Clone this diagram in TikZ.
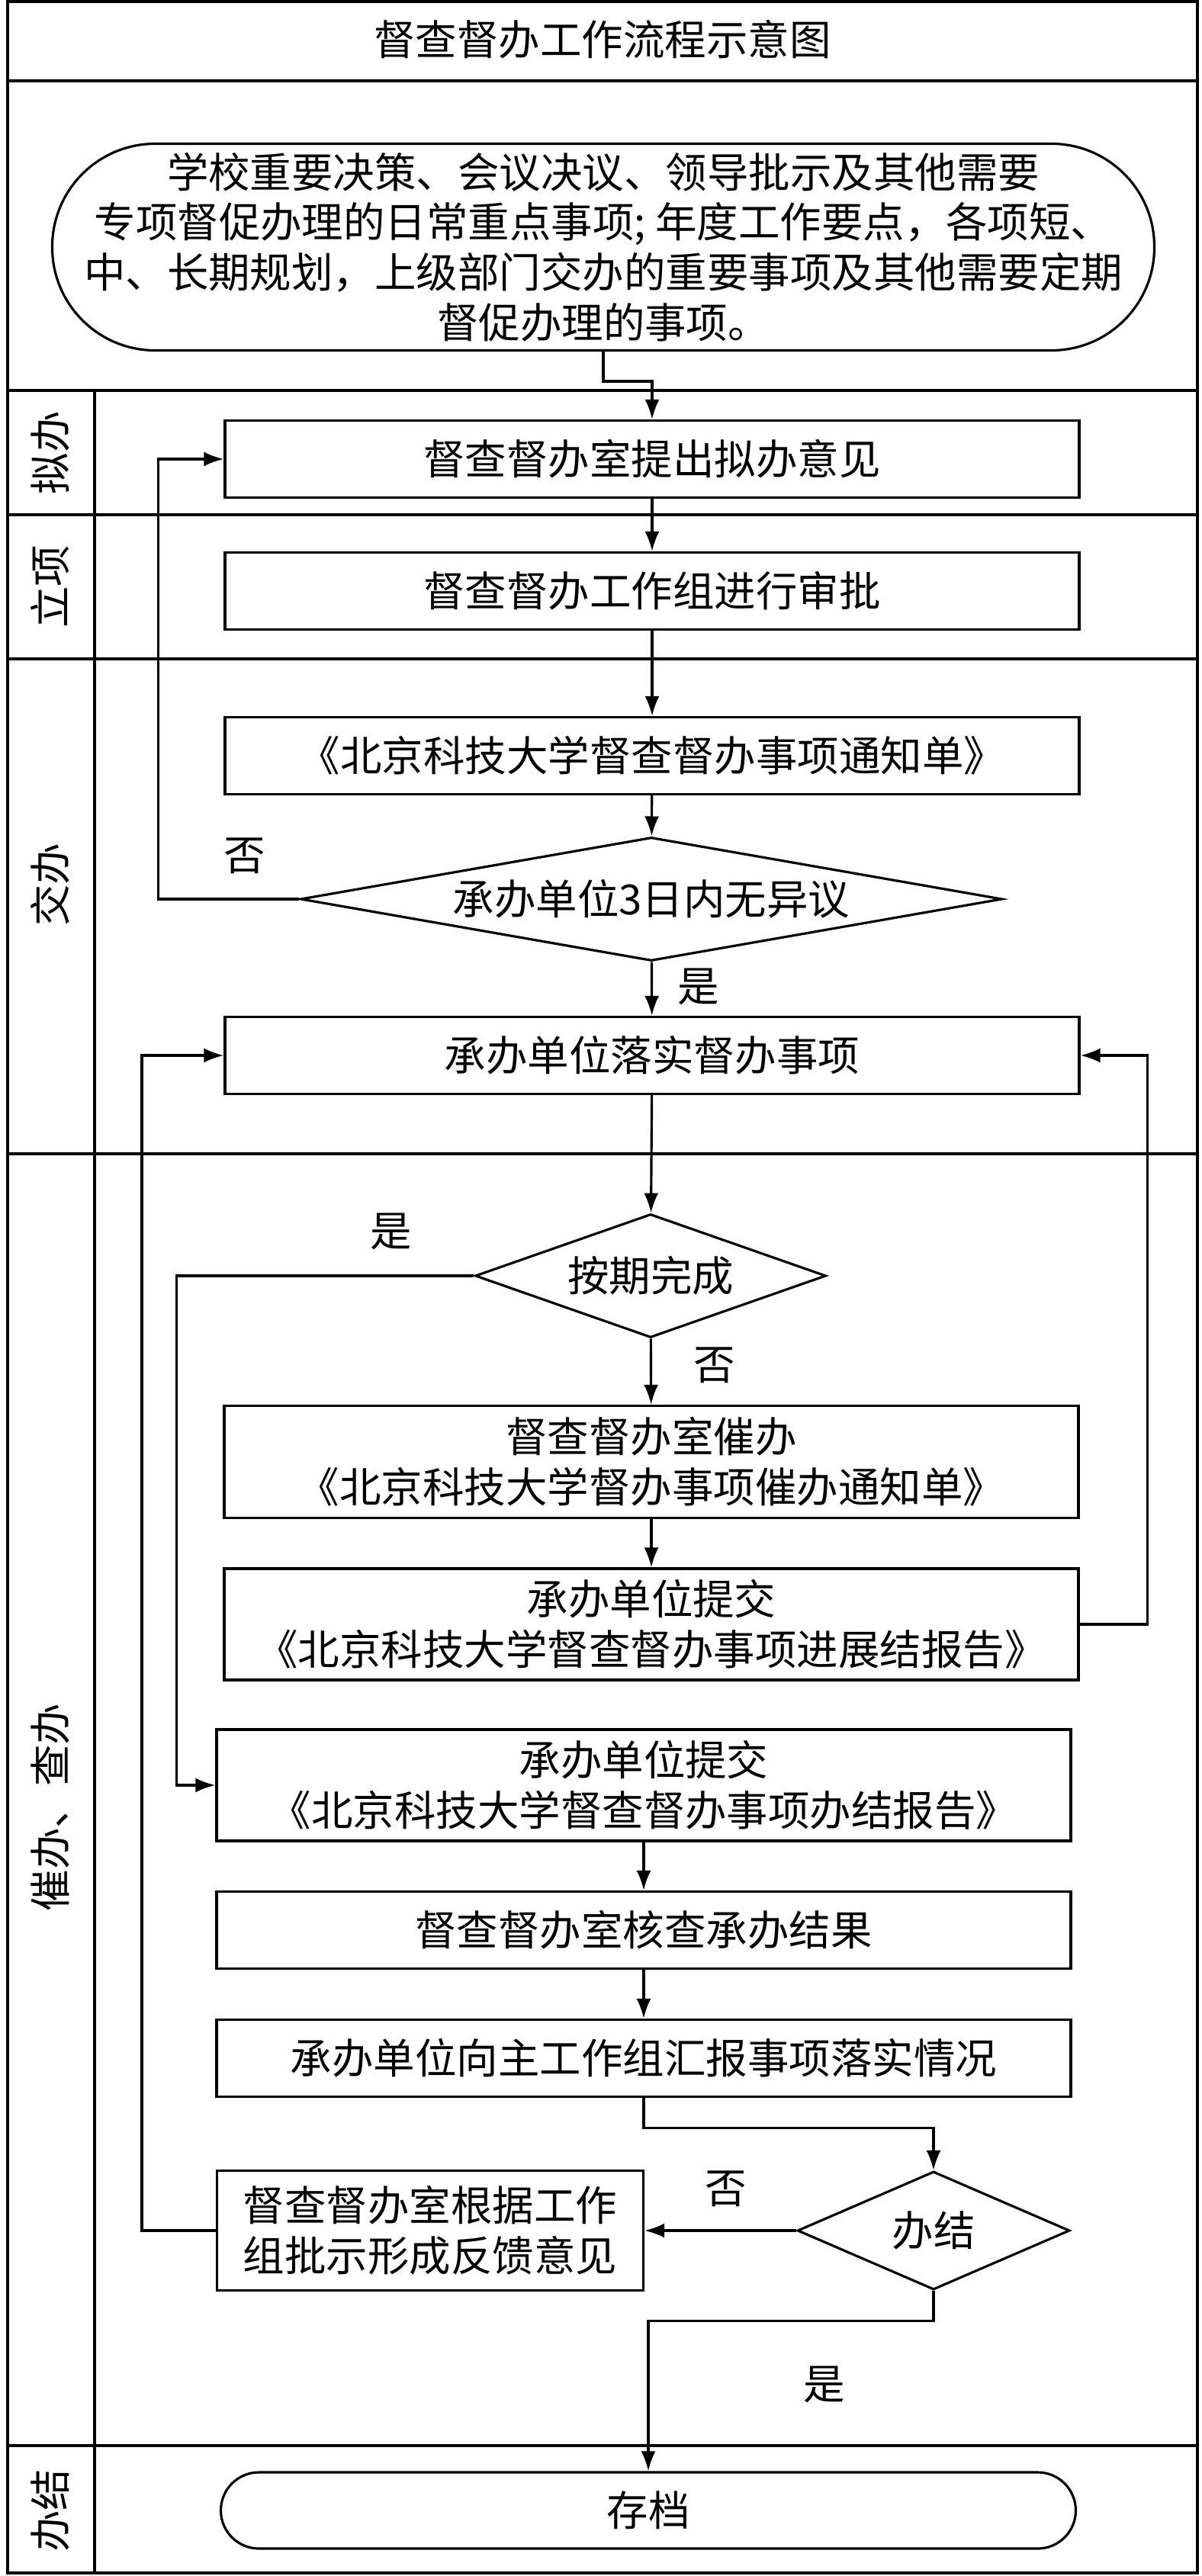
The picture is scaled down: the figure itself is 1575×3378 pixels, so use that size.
\documentclass[tikz,border=0pt]{standalone}
\usepackage{fontspec}
\setmainfont{Noto Sans CJK SC}
\usepackage{tikz}
\usetikzlibrary{shapes,arrows.meta,calc,positioning}
\tikzset{
    x=0.1mm, y=-0.1mm, semithick,
    every node/.style={font=\fontsize{15.5pt}{18.7pt}\selectfont, inner sep=0pt},
    box/.style={rectangle, draw, line width=0.9pt, minimum width=112mm, minimum height=10.1mm, align=center},
    term/.style={rectangle, draw, line width=0.9pt, align=center},
    decision/.style={diamond, draw, line width=0.9pt},
    flow/.style={-{Latex[length=2.6mm,width=1.9mm]}, line width=0.9pt},
    lane/.style={line width=1.2pt},
    lbl/.style={rotate=90},
}
\begin{document}
\begin{tikzpicture}
\useasboundingbox (0,0) rectangle (1575,3378);

    % frame and lanes
    \draw[lane] (10,2) rectangle (1570,3374);
    \foreach \y in {106,512,675,864,1513,3207}
        \draw[lane] (10,\y) -- (1570,\y);
    \draw[lane] (124,512) -- (124,3374);

    \node (title) at (790,52) {督查督办工作流程示意图};
    \node (l1) at (66,594) [lbl] {拟办};
    \node (l2) at (66,769) [lbl] {立项};
    \node (l3) at (66,1160) [lbl] {交办};
    \node (l4) at (66,2370) [lbl] {催办、查办};
    \node (l5) at (66,3292) [lbl] {办结};

    % steps
    \node (start) at (791,324) [term, rounded corners=13.5mm, minimum width=144.5mm, minimum height=27.1mm] {学校重要决策、会议决议、领导批示及其他需要\\专项督促办理的日常重点事项; 年度工作要点，各项短、\\中、长期规划，上级部门交办的重要事项及其他需要定期\\督促办理的事项。};
    \node (b1) at (855,602) [box] {督查督办室提出拟办意见};
    \node (b2) at (855,775) [box] {督查督办工作组进行审批};
    \node (b3) at (855,991) [box] {《北京科技大学督查督办事项通知单》};
    \node (d1) at (854,1179) [decision, minimum width=92mm, minimum height=16.2mm, aspect=5.7] {承办单位3日内无异议};
    \node (b4) at (855,1384) [box] {承办单位落实督办事项};
    \node (d2) at (853,1673) [decision, minimum width=46mm, minimum height=16.2mm, aspect=2.8] {按期完成};
    \node (b5) at (854,1917) [box, minimum height=14.7mm] {督查督办室催办\\《北京科技大学督办事项催办通知单》};
    \node (b6) at (854,2130) [box, minimum height=14.6mm] {承办单位提交\\《北京科技大学督查督办事项进展结报告》};
    \node (b7) at (844,2341) [box, minimum height=14.6mm] {承办单位提交\\《北京科技大学督查督办事项办结报告》};
    \node (b8) at (844,2531) [box] {督查督办室核查承办结果};
    \node (b9) at (844,2699) [box] {承办单位向主工作组汇报事项落实情况};
    \node (d3) at (1224,2925) [decision, minimum width=35.7mm, minimum height=15.5mm, aspect=2.3] {办结};
    \node (b10) at (564,2925) [box, minimum width=55.9mm, minimum height=15.7mm] {督查督办室根据工作\\组批示形成反馈意见};
    \node (archive) at (850,3292) [term, rounded corners=5mm, minimum width=112.1mm, minimum height=10mm] {存档};

    % yes / no
    \node (no1) at (321,1122) {否};
    \node (yes1) at (916,1294) {是};
    \node (yes2) at (513,1615) {是};
    \node (no2) at (937,1790) {否};
    \node (no3) at (952,2870) {否};
    \node (yes3) at (1081,3127) {是};

    % Directed edge
    \draw[flow] (start.south) -- ++(0,39) -| (b1.north);
    \path[flow] (b1) edge (b2);
    \path[flow] (b2) edge (b3);
    \path[flow] (b3) edge (d1);
    \path[flow] (d1) edge (b4);
    \path[flow] (b4) edge (d2);
    \path[flow] (d2) edge (b5);
    \path[flow] (b5) edge (b6);
    \path[flow] (b7) edge (b8);
    \path[flow] (b8) edge (b9);
    \draw[flow] (b9.south) -- ++(0,39) -| (d3.north);
    \draw[flow] (d3.west) -- (b10.east);
    \draw[flow] (d3.south) -- ++(0,39) -| (archive.north);

    % loops back
    \draw[flow] (d1.west) -- ++(-185,0) |- (b1.west);
    \draw[flow] (d2.west) -- ++(-390,0) |- (b7.west);
    \draw[flow] (b6.east) -- ++(89,0) |- (b4.east);
    \draw[flow] (b10.west) -- ++(-97,0) |- (b4.west);

\end{tikzpicture}
\end{document}
